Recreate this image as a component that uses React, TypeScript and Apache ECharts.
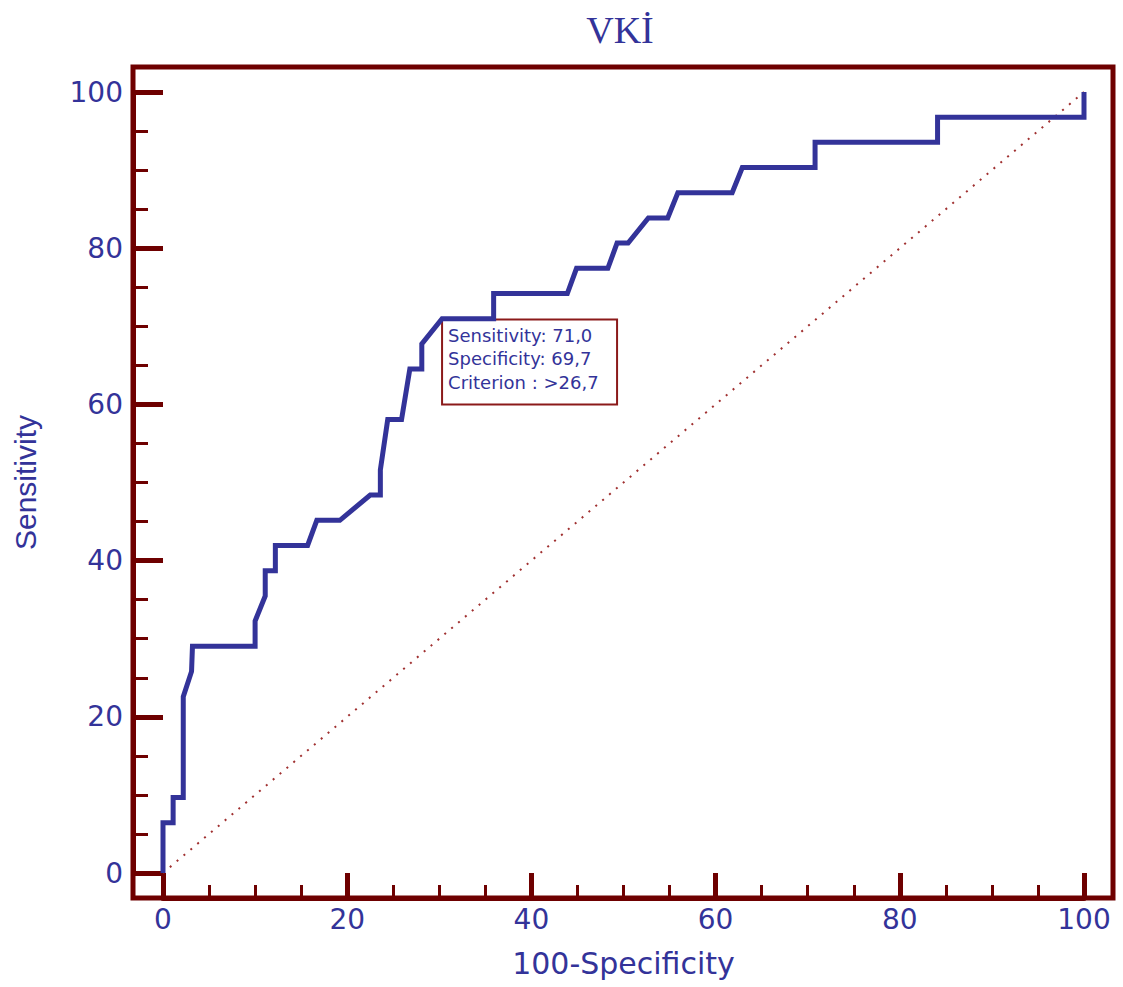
import React, { useEffect, useRef } from "react";
import * as echarts from "echarts";

// ROC curve (100-Specificity, Sensitivity)
const rocX = [0, 0, 1.1, 1.1, 2.2, 2.2, 3.1, 3.2, 10.0, 10.0, 11.1, 11.1, 12.2, 12.2, 15.7, 16.7, 19.2, 22.5, 23.6, 23.6, 24.4, 25.9, 26.8, 28.1, 28.1, 30.3, 35.9, 35.9, 43.9, 44.9, 48.3, 49.3, 50.5, 52.7, 54.8, 55.9, 61.8, 62.9, 70.8, 70.8, 84.1, 84.1, 100, 100];
const rocY = [0, 6.45, 6.45, 9.68, 9.68, 22.58, 25.81, 29.03, 29.03, 32.26, 35.48, 38.71, 38.71, 41.94, 41.94, 45.16, 45.16, 48.39, 48.39, 51.61, 58.06, 58.06, 64.52, 64.52, 67.74, 70.97, 70.97, 74.19, 74.19, 77.42, 77.42, 80.65, 80.65, 83.87, 83.87, 87.10, 87.10, 90.32, 90.32, 93.55, 93.55, 96.77, 96.77, 100];
const diagX = [0, 100];
const diagY = [0, 100];
const criterion = { x: 30.3, y: 71.0 };
const criterionLines = ["Sensitivity: 71,0", "Specificity: 69,7", "Criterion : >26,7"];
const titleText = "VKİ";
const xName = "100-Specificity";
const yName = "Sensitivity";

const FRAME = "#6e0000";
const BLUE = "#333399";

export default function App() {
  const ref = useRef<HTMLDivElement>(null);
  useEffect(() => {
    if (!ref.current) return;
    const chart = echarts.init(ref.current, null, { renderer: "svg" });
    const axisCommon = {
      type: "value",
      min: 0,
      max: 100,
      interval: 20,
      splitLine: { show: false },
      axisLine: { show: true, onZero: false, lineStyle: { color: FRAME, width: 5 } },
      axisTick: { show: true, inside: true, lineStyle: { color: FRAME, width: 5 } },
      minorTick: { show: true, splitNumber: 4, lineStyle: { color: FRAME, width: 3 } },
      axisLabel: { color: BLUE, fontFamily: "DejaVu Sans", fontSize: 28 },
    };
    chart.setOption({
      animation: false,
      title: {
        text: titleText,
        left: 615,
        top: 6,
        textAlign: "center",
        textStyle: { color: BLUE, fontFamily: "Liberation Serif", fontSize: 38, fontWeight: "normal" },
      },
      grid: { left: 163, right: 39, top: 92, bottom: 114 },
      xAxis: {
        ...axisCommon,
        offset: 25,
        axisTick: { ...axisCommon.axisTick, length: 25 },
        minorTick: { ...axisCommon.minorTick, length: 13 },
        axisLabel: { ...axisCommon.axisLabel, margin: 7 },
        name: xName,
        nameLocation: "middle",
        nameGap: 50,
        nameTextStyle: { color: BLUE, fontFamily: "DejaVu Sans", fontSize: 30 },
      },
      yAxis: {
        ...axisCommon,
        offset: 30,
        axisTick: { ...axisCommon.axisTick, length: 30 },
        minorTick: { ...axisCommon.minorTick, length: 15 },
        axisLabel: { ...axisCommon.axisLabel, margin: 10 },
        name: yName,
        nameLocation: "middle",
        nameGap: 93,
        nameTextStyle: { color: BLUE, fontFamily: "Liberation Sans", fontSize: 30 },
      },
      series: [
        {
          type: "line",
          data: diagX.map((x, i) => [x, diagY[i]]),
          symbol: "none",
          silent: true,
          lineStyle: { color: "#a03030", width: 2, type: [2, 7] },
          z: 1,
        },
        {
          type: "line",
          data: rocX.map((x, i) => [x, rocY[i]]),
          symbol: "none",
          lineStyle: { color: BLUE, width: 5, join: "miter" },
          z: 3,
        },
      ],
    });
    const p = chart.convertToPixel({ gridIndex: 0 }, [criterion.x, criterion.y]) as number[];
    chart.setOption({
      graphic: [
        {
          type: "rect",
          shape: { x: 133, y: 67, width: 980, height: 831 },
          style: { fill: "none", stroke: FRAME, lineWidth: 5 },
          z: 0,
          silent: true,
        },
        {
          type: "group",
          x: p[0],
          y: p[1] + 1,
          z: 10,
          children: [
            {
              type: "rect",
              shape: { x: 0, y: 0, width: 175, height: 85 },
              style: { fill: "#ffffff", stroke: "#8b1a1a", lineWidth: 2 },
            },
            ...criterionLines.map((t, i) => ({
              type: "text",
              x: 6,
              y: 16 + i * 23.5,
              style: {
                text: t,
                fill: BLUE,
                font: "18px 'DejaVu Sans'",
                verticalAlign: "middle",
                align: "left",
              },
            })),
          ],
        },
      ],
    });
    return () => chart.dispose();
  }, []);
  return <div ref={ref} style={{ position: "fixed", left: 0, top: 0, width: 1123, height: 987, background: "#fff" }} />;
}
